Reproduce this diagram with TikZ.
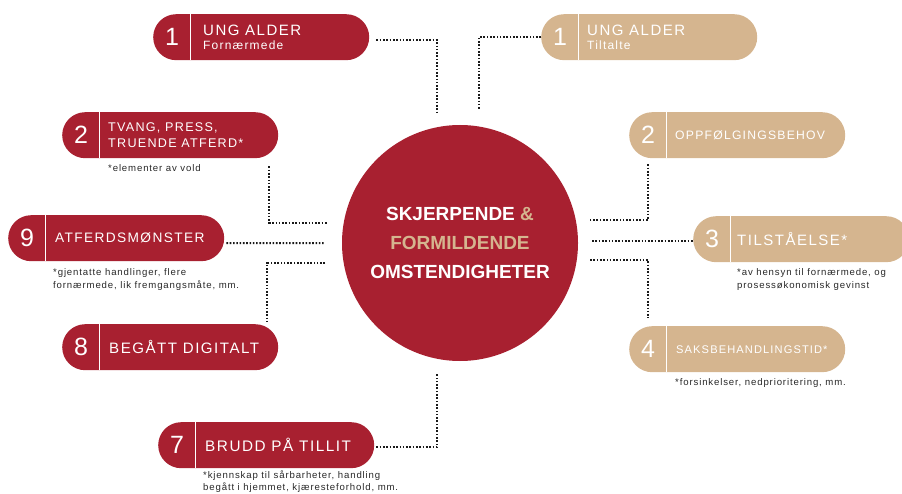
\documentclass[tikz,border=0pt]{standalone}
\usepackage{fontspec}
\setmainfont{Liberation Sans}
\newfontfamily\titlefont[LetterSpace=10]{Liberation Sans}
\newfontfamily\notefont[LetterSpace=9]{Liberation Sans}
\usetikzlibrary{calc}
\definecolor{cred}{RGB}{168,32,48}
\definecolor{ctan}{RGB}{213,181,143}
\definecolor{cdot}{RGB}{25,25,25}
\definecolor{cnote}{RGB}{40,40,40}
\tikzset{
  pill/.style={rectangle, rounded corners=23pt, minimum width=216pt, minimum height=46pt, inner sep=0pt, anchor=north west},
  redpill/.style={pill, fill=cred},
  tanpill/.style={pill, fill=ctan},
  num/.style={text=white, inner sep=0pt, font=\fontsize{25}{25}\selectfont},
  ttl/.style={text=white, anchor=west, inner sep=0pt, align=left, font=\titlefont\fontsize{#1}{#1}\selectfont},
  note/.style={text=cnote, anchor=north west, inner sep=0pt, align=left, font=\notefont\fontsize{9.6}{13}\selectfont},
  conn/.style={cdot, line width=2pt, dash pattern=on 1.6pt off 1.7pt},
  divider/.style={white, line width=1.6pt},
  hubstyle/.style={circle, fill=cred, minimum size=236pt, inner sep=0pt},
  hubtext/.style={text=white, align=center, inner sep=0pt, font=\bfseries\fontsize{19}{29}\selectfont},
}
\newcommand\mkpill[7]{%
  \node[#2] (#1) at #3 {};
  \draw[divider] ($(#1.north west)+(37.5,0)$) -- ($(#1.south west)+(37.5,0)$);
  \node[num] (#1n) at ($(#1.west)+(19,0)$) {#4};
  \node[ttl=#5] (#1t) at ($(#1.west)+(#6,0)$) {#7};
}
\begin{document}
\begin{tikzpicture}[x=1pt,y=-1pt]
\useasboundingbox (0,0) rectangle (902,494);
% hub
\node[hubstyle] (hub) at (460,243) {};
\node[hubtext] (hubt) at (hub.center) {SKJERPENDE \textcolor{ctan}{\&}\\\textcolor{ctan}{FORMILDENDE}\\OMSTENDIGHETER};
% pills
\mkpill{L1}{redpill}{(153,14)}{1}{15}{50}{UNG ALDER\\[-1pt]{\fontsize{12}{12}\selectfont Fornærmede}}
\mkpill{R1}{tanpill}{(541,14)}{1}{15}{46}{UNG ALDER\\[-1pt]{\fontsize{12}{12}\selectfont Tiltalte}}
\mkpill{L2}{redpill}{(62,112)}{2}{12.6}{46}{TVANG, PRESS,\\[3.5pt]TRUENDE ATFERD*}
\mkpill{R2}{tanpill}{(629,112)}{2}{12.2}{46}{OPPFØLGINGSBEHOV}
\mkpill{L9}{redpill}{(8,215)}{9}{13.7}{47}{ATFERDSMØNSTER}
\mkpill{R3}{tanpill}{(693,216)}{3}{15}{44}{TILSTÅELSE*}
\mkpill{L8}{redpill}{(62,324)}{8}{15.1}{47}{BEGÅTT DIGITALT}
\mkpill{R4}{tanpill}{(629,326)}{4}{11.1}{47}{SAKSBEHANDLINGSTID*}
\mkpill{L7}{redpill}{(158,422)}{7}{15.3}{47}{BRUDD PÅ TILLIT}
% notes
\node[note] (L2note) at (108,164) {*elementer av vold};
\node[note] (L9note) at (53,268) {*gjentatte handlinger, flere\\fornærmede, lik fremgangsmåte, mm.};
\node[note] (R3note) at (737,268) {*av hensyn til fornærmede, og\\prosessøkonomisk gevinst};
\node[note] (R4note) at (675,378) {*forsinkelser, nedprioritering, mm.};
\node[note, font=\notefont\fontsize{9.6}{12}\selectfont] (L7note) at (203,471) {*kjennskap til sårbarheter, handling\\begått i hjemmet, kjæresteforhold, mm.};
% connector ends
\coordinate (c1end) at (437,113);
\coordinate (r1end) at (479,110);
\coordinate (r2end) at (590,220);
\coordinate (r3end) at (592,241);
\coordinate (r4end) at (590,260);
\coordinate (l2end) at (327,223);
\coordinate (l9end) at (325,243);
\coordinate (l8end) at (325,263);
\coordinate (l7end) at (437,374);
% connectors
\draw[conn] ($(L1.east)+(7,3)$) -| (c1end);
\draw[conn] (R1.west) -| (r1end);
\draw[conn] ($(R2n |- R2.south)+(0,6)$) |- (r2end);
\draw[conn] (r3end) -- (r3end -| R3.west);
\draw[conn] (r4end) -| ($(R4n |- R4.north)+(0,-8)$);
\draw[conn] ($(L2.south east)+(-9,8)$) |- (l2end);
\draw[conn] ($(L9.east)+(2,5)$) -- (l9end);
\draw[conn] (l8end) -| ($(L8.north east)+(-11,-2)$);
\draw[conn] ($(L7.east)+(2,2)$) -| (l7end);
\end{tikzpicture}
\end{document}
